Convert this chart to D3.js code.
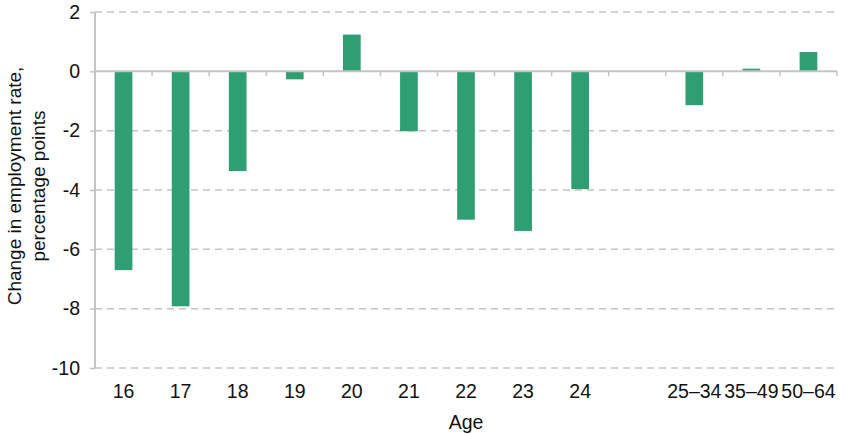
<!DOCTYPE html>
<html>
<head>
<meta charset="utf-8">
<script src="https://cdn.jsdelivr.net/npm/d3@7"></script>
<style>
  body { margin: 0; background: #fff; }
  svg { display: block; font-family: "Liberation Sans", Arial, sans-serif; }
</style>
</head>
<body>
<svg width="848" height="435"></svg>
<script>
// categories (blank slot between 24 and 25–34)
const ages = ["16", "17", "18", "19", "20", "21", "22", "23", "24", "", "25–34", "35–49", "50–64"];
const changes = [-6.7, -7.92, -3.36, -0.27, 1.24, -2.02, -5.0, -5.38, -3.97, null, -1.14, 0.09, 0.65];
const yTicks = [2, 0, -2, -4, -6, -8, -10];

const svg = d3.select("svg"),
  margin = { top: 12, right: 11, bottom: 67, left: 95 },
  width = +svg.attr("width") - margin.left - margin.right,
  height = +svg.attr("height") - margin.top - margin.bottom;

const fontSize = "19.5px";

const g = svg.append("g")
  .attr("transform", "translate(" + margin.left + "," + margin.top + ")");

const keys = ages.map((a, i) => i);
const x = d3.scaleBand()
  .domain(keys)
  .range([0, width])
  .paddingInner(0.69)
  .paddingOuter(0.345);
const y = d3.scaleLinear().domain([-10, 2]).range([height, 0]);

const grey = "#c4c4c4";

// dashed gridlines
g.append("g")
  .selectAll("line")
  .data(yTicks.filter(d => d !== 0))
  .enter().append("line")
  .attr("x1", 0)
  .attr("x2", width)
  .attr("y1", d => y(d))
  .attr("y2", d => y(d))
  .attr("stroke", grey)
  .attr("stroke-width", 1.5)
  .attr("stroke-dasharray", "7,5");

// y axis
const yAxis = g.append("g")
  .call(d3.axisLeft(y).tickValues(yTicks).tickSize(5).tickPadding(10).tickFormat(d3.format("d")));
yAxis.select(".domain").attr("stroke", grey).attr("stroke-width", 2).attr("d", "M0," + y(2) + "V" + y(-10));
yAxis.selectAll(".tick line").attr("stroke", grey).attr("stroke-width", 1.5);
yAxis.selectAll(".tick text")
  .attr("fill", "#111")
  .style("font-size", fontSize)
  .style("font-family", "'Liberation Sans', Arial, sans-serif")
  .text(d => d < 0 ? "-" + Math.abs(d) : d);

// bars
g.append("g")
  .selectAll("rect")
  .data(changes.map((v, i) => ({ i: i, v: v })).filter(d => d.v !== null))
  .enter().append("rect")
  .attr("x", d => x(d.i))
  .attr("width", x.bandwidth())
  .attr("y", d => y(Math.max(0, d.v)))
  .attr("height", d => Math.abs(y(d.v) - y(0)))
  .attr("fill", "#2f9f73");

// zero line with category boundary ticks
g.append("line")
  .attr("x1", 0).attr("x2", width)
  .attr("y1", y(0)).attr("y2", y(0))
  .attr("stroke", grey).attr("stroke-width", 2);

g.append("g")
  .selectAll("line")
  .data(d3.range(ages.length + 1))
  .enter().append("line")
  .attr("x1", d => d * x.step())
  .attr("x2", d => d * x.step())
  .attr("y1", y(0))
  .attr("y2", y(0) + 5)
  .attr("stroke", grey)
  .attr("stroke-width", 1.5);

// category labels
g.append("g")
  .selectAll("text")
  .data(keys)
  .enter().append("text")
  .attr("x", d => x(d) + x.bandwidth() / 2)
  .attr("y", height + 30)
  .attr("text-anchor", "middle")
  .attr("fill", "#111")
  .style("font-size", fontSize)
  .text(d => ages[d]);

// axis titles
svg.append("text")
  .attr("x", margin.left + width / 2)
  .attr("y", 429)
  .attr("text-anchor", "middle")
  .attr("fill", "#111")
  .style("font-size", fontSize)
  .text("Age");

const yTitle = svg.append("text")
  .attr("transform", "translate(21," + (margin.top + height / 2 - 4) + ") rotate(-90)")
  .attr("text-anchor", "middle")
  .attr("fill", "#111")
  .style("font-size", "19px");
yTitle.append("tspan").attr("x", 0).attr("dy", 0).text("Change in employment rate,");
yTitle.append("tspan").attr("x", 0).attr("dy", 24).text("percentage points");
</script>
</body>
</html>
